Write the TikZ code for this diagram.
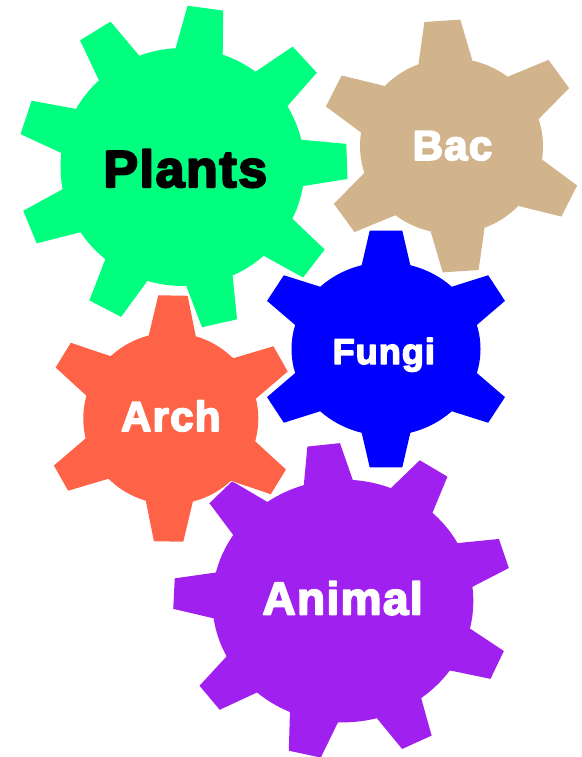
\documentclass[tikz,border=0pt]{standalone}
\usepackage{fontspec}
\usepackage{xcolor}
\setmainfont{Liberation Sans}[BoldFeatures={FakeBold=4,LetterSpace=3}]

\definecolor{plantsgreen}{HTML}{00FF7F}
\definecolor{bactan}{HTML}{D2B48C}
\definecolor{fungiblue}{HTML}{0000FF}
\definecolor{archred}{HTML}{FF6347}
\definecolor{animalpurple}{HTML}{A020F0}

% layer style, disc radius, tooth base half, tip radius, tip half, tooth angles
\newcommand{\gearbody}[6]{%
  \foreach \layer in {halo,#1}{%
    \path[\layer] (0,0) circle (#2);
    \foreach \a in {#6}
      \path[\layer,rotate=\a] (#2-4,-#3) -- (#4,-#5) -- (#4,#5) -- (#2-4,#3) -- cycle;
  }%
}

\begin{document}
\begin{tikzpicture}[
  x=1pt,y=-1pt,
  line join=round,line cap=round,
  halo/.style={fill=white,draw=white,line width=1pt},
  plantsgear/.style={fill=plantsgreen},
  bacgear/.style={fill=bactan},
  fungigear/.style={fill=fungiblue},
  archgear/.style={fill=archred},
  animalgear/.style={fill=animalpurple},
  lbl/.style={anchor=base,inner sep=0pt,font=\bfseries}
]
\useasboundingbox (0,0) rectangle (581,757);

%%%%%%%%%%%%%%%%%%%%%%%%%%%%%%%%%%%%%%%%%%%%%%%%%%%%
% Plants
%%%%%%%%%%%%%%%%%%%%%%%%%%%%%%%%%%%%%%%%%%%%%%%%%%%%
\begin{scope}[shift={(182.5,167)},yscale=.975]
\gearbody{plantsgear}{122}{24}{164.5}{18}{82,42,2,-37,-77,-118,-158,162,122}
\end{scope}
\node[lbl,text=black,font=\bfseries\fontsize{52}{52}\selectfont] (plants) at (185.3,187) {Plants};

%%%%%%%%%%%%%%%%%%%%%%%%%%%%%%%%%%%%%%%%%%%%%%%%%%%%
% Bac
%%%%%%%%%%%%%%%%%%%%%%%%%%%%%%%%%%%%%%%%%%%%%%%%%%%%
\begin{scope}[shift={(451.5,146)},yscale=.958]
\gearbody{bacgear}{91.5}{27}{131}{18}{94,35,-26,-86,-145,154}
\end{scope}
\node[lbl,text=white,font=\bfseries\fontsize{42}{42}\selectfont] (bac) at (452.5,160) {Bac};

%%%%%%%%%%%%%%%%%%%%%%%%%%%%%%%%%%%%%%%%%%%%%%%%%%%%
% Fungi
%%%%%%%%%%%%%%%%%%%%%%%%%%%%%%%%%%%%%%%%%%%%%%%%%%%%
\begin{scope}[shift={(386,349)},yscale=.917]
\gearbody{fungigear}{94.5}{24.5}{129}{16.3}{90,31,-31,-90,-149,149}
\end{scope}
\node[lbl,text=white,font=\bfseries\fontsize{36}{36}\selectfont] (fungi) at (383.8,364) {Fungi};

%%%%%%%%%%%%%%%%%%%%%%%%%%%%%%%%%%%%%%%%%%%%%%%%%%%%
% Animal
%%%%%%%%%%%%%%%%%%%%%%%%%%%%%%%%%%%%%%%%%%%%%%%%%%%%
\begin{scope}[shift={(342.8,601)},yscale=.93]
\gearbody{animalgear}{130.5}{25}{169}{16.4}{96.5,57.5,17.6,-24,-64,-103,-142,177.3,136.2}
\end{scope}
\node[lbl,text=white,font=\bfseries\fontsize{46}{46}\selectfont] (animal) at (342.6,614.5) {Animal};

%%%%%%%%%%%%%%%%%%%%%%%%%%%%%%%%%%%%%%%%%%%%%%%%%%%%
% Arch
%%%%%%%%%%%%%%%%%%%%%%%%%%%%%%%%%%%%%%%%%%%%%%%%%%%%
\begin{scope}[shift={(170.8,418.5)},yscale=.98]
\gearbody{archgear}{87.5}{23.7}{125.5}{14.7}{89,29,-31,-91,-151,149}
\end{scope}
\node[lbl,text=white,font=\bfseries\fontsize{42}{42}\selectfont] (arch) at (170.8,431) {Arch};

\end{tikzpicture}
\end{document}
